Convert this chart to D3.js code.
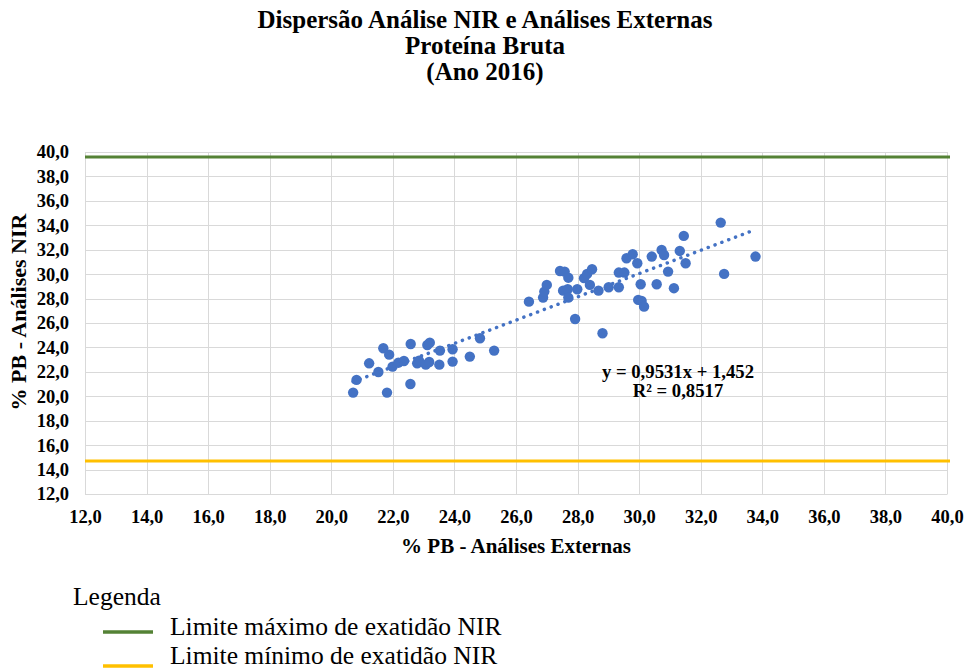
<!DOCTYPE html>
<html>
<head>
<meta charset="utf-8">
<script src="https://cdn.jsdelivr.net/npm/d3@7/dist/d3.min.js"></script>
<style>
  html, body { margin: 0; padding: 0; background: #ffffff; }
  svg { display: block; }
  text { font-family: "Liberation Serif", "Times New Roman", serif; fill: #000; }
</style>
</head>
<body>
<svg id="chart" width="965" height="670"></svg>
<script>
// % PB measured by external labs (x) and by NIR (y), one entry per sample
const externas = [
  20.71, 20.82, 21.23, 21.53, 21.69, 21.88, 21.81, 21.99, 22.18, 22.36,
  22.58, 22.57, 22.79, 22.85, 23.07, 23.12, 23.20, 23.18, 23.53, 23.51,
  23.94, 23.94, 24.50, 24.83, 25.29,
  26.42, 26.88, 26.92, 27.00, 27.43, 27.58, 27.70, 27.53, 27.68, 27.70,
  27.99, 27.92, 28.21, 28.31, 28.47, 28.40, 28.68, 28.81, 29.01, 29.34,
  29.34, 29.52, 29.59, 29.79, 29.94, 30.05, 29.97, 30.08, 30.16, 30.41,
  30.57, 30.73, 30.81, 30.94, 31.13, 31.32, 31.51, 31.45, 32.65, 32.76,
  33.78
];
const nir = [
  20.30, 21.34, 22.70, 21.99, 23.93, 23.41, 20.30, 22.43, 22.75, 22.89,
  24.28, 21.01, 22.70, 22.92, 22.59, 24.20, 24.39, 22.81, 23.74, 22.59,
  23.85, 22.84, 23.25, 24.75, 23.74,
  27.75, 28.08, 28.57, 29.12, 30.26, 30.21, 29.71, 28.65, 28.76, 28.08,
  28.76, 26.33, 29.67, 30.02, 30.40, 29.12, 28.65, 25.16, 28.93, 28.93,
  30.13, 30.13, 31.30, 31.63, 30.89, 29.17, 27.89, 27.81, 27.34, 31.44,
  29.17, 31.98, 31.57, 30.21, 28.85, 31.90, 30.89, 33.13, 34.22, 30.02,
  31.44
];

// Linear trend reported on the chart
const slope = 0.9531;
const intercept = 1.452;
const equationLabel = "y = 0,9531x + 1,452";
const r2Label = "R² = 0,8517";

// Accuracy limits of the NIR method
const limiteMax = 39.6;
const limiteMin = 14.7;

// Axis ticks
const xTicks = d3.range(12, 40.001, 2);
const yTicks = d3.range(12, 40.001, 2);

const titleLines = ["Dispersão Análise NIR e Análises Externas", "Proteína Bruta", "(Ano 2016)"];
const xAxisTitle = "% PB - Análises Externas";
const yAxisTitle = "% PB - Análises NIR";
const legendTitle = "Legenda";
const legendItems = [
  { label: "Limite máximo de exatidão NIR", color: "#548235" },
  { label: "Limite mínimo de exatidão NIR", color: "#FFC000" }
];

const svg = d3.select("#chart");
const plot = { left: 85, right: 947, top: 152, bottom: 494 };
const fmt = v => v.toFixed(1).replace(".", ",");

const x = d3.scaleLinear().domain([12, 40]).range([plot.left, plot.right]);
const y = d3.scaleLinear().domain([12, 40]).range([plot.bottom, plot.top]);

// Title
svg.append("g").selectAll("text").data(titleLines).join("text")
  .attr("x", 485).attr("y", (d, i) => 28 + i * 26)
  .attr("text-anchor", "middle")
  .style("font-weight", "bold").style("font-size", "25px")
  .text(d => d);

// Gridlines
const grid = svg.append("g").attr("stroke", "#d9d9d9").attr("stroke-width", 1);
grid.selectAll("line.v").data(xTicks).join("line").attr("class", "v")
  .attr("x1", d => Math.round(x(d)) + 0.5).attr("x2", d => Math.round(x(d)) + 0.5)
  .attr("y1", plot.top).attr("y2", plot.bottom);
grid.selectAll("line.h").data(yTicks).join("line").attr("class", "h")
  .attr("y1", d => Math.round(y(d)) + 0.5).attr("y2", d => Math.round(y(d)) + 0.5)
  .attr("x1", plot.left).attr("x2", plot.right);

// Axes (labels only, lines come from the grid)
const xAxis = svg.append("g").attr("transform", `translate(0,${plot.bottom})`)
  .call(d3.axisBottom(x).tickValues(xTicks).tickFormat(fmt).tickSize(0).tickPadding(16));
const yAxis = svg.append("g").attr("transform", `translate(${plot.left},0)`)
  .call(d3.axisLeft(y).tickValues(yTicks).tickFormat(fmt).tickSize(0).tickPadding(16));
[xAxis, yAxis].forEach(a => {
  a.select(".domain").attr("stroke", "#d9d9d9");
  a.selectAll("text").style("font-family", "'Liberation Serif', serif")
    .style("font-weight", "bold").style("font-size", "18.5px").attr("fill", "#000");
});

// Axis titles
svg.append("text").attr("x", (plot.left + plot.right) / 2).attr("y", 553)
  .attr("text-anchor", "middle").style("font-weight", "bold").style("font-size", "21px")
  .text(xAxisTitle);
svg.append("text")
  .attr("transform", "translate(26,312) rotate(-90)")
  .attr("text-anchor", "middle").style("font-weight", "bold").style("font-size", "22px")
  .text(yAxisTitle);

// Accuracy limit lines
svg.append("line").attr("x1", plot.left).attr("x2", plot.right + 3)
  .attr("y1", y(limiteMax)).attr("y2", y(limiteMax))
  .attr("stroke", legendItems[0].color).attr("stroke-width", 3);
svg.append("line").attr("x1", plot.left).attr("x2", plot.right + 3)
  .attr("y1", y(limiteMin)).attr("y2", y(limiteMin))
  .attr("stroke", legendItems[1].color).attr("stroke-width", 3);

// Scatter points
const points = externas.map((v, i) => ({ x: v, y: nir[i] }));
svg.append("g").selectAll("circle").data(points).join("circle")
  .attr("cx", d => x(d.x)).attr("cy", d => y(d.y)).attr("r", 5.2)
  .attr("fill", "#4472C4");

// Dotted trendline across the range of the data
const [xmin, xmax] = d3.extent(externas);
svg.append("line")
  .attr("x1", x(xmin)).attr("y1", y(slope * xmin + intercept))
  .attr("x2", x(xmax)).attr("y2", y(slope * xmax + intercept))
  .attr("stroke", "#4472C4").attr("stroke-width", 3.5)
  .attr("stroke-linecap", "round").attr("stroke-dasharray", "0.1 7.2");

// Trend equation
svg.append("text").attr("x", 678).attr("y", 378).attr("text-anchor", "middle")
  .style("font-weight", "bold").style("font-size", "18.7px").text(equationLabel);
svg.append("text").attr("x", 678).attr("y", 397).attr("text-anchor", "middle")
  .style("font-weight", "bold").style("font-size", "18.7px").text(r2Label);

// Legend
svg.append("text").attr("x", 73).attr("y", 605).style("font-size", "25.5px").text(legendTitle);
const legendRows = [
  { lineY: 632, textY: 634.5 },
  { lineY: 666, textY: 664 }
];
const leg = svg.append("g").selectAll("g").data(legendItems).join("g");
leg.append("line").attr("x1", 103).attr("x2", 153)
  .attr("y1", (d, i) => legendRows[i].lineY).attr("y2", (d, i) => legendRows[i].lineY)
  .attr("stroke", d => d.color).attr("stroke-width", 3.5);
leg.append("text").attr("x", 170).attr("y", (d, i) => legendRows[i].textY)
  .style("font-size", "25.5px").text(d => d.label);
</script>
</body>
</html>
